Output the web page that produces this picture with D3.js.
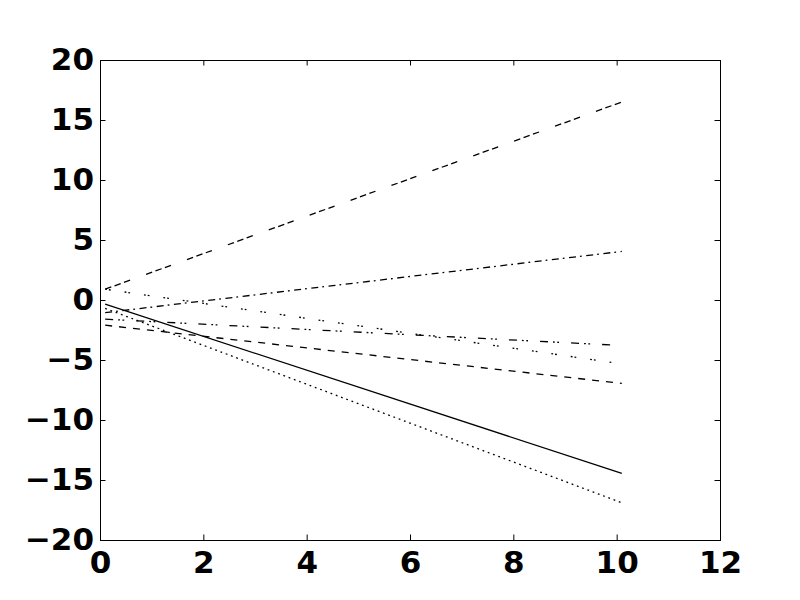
<!DOCTYPE html>
<html>
<head>
<meta charset="utf-8">
<script src="https://cdn.jsdelivr.net/npm/d3@7"></script>
<style>
  html, body { margin: 0; padding: 0; background: #fff; }
  svg { display: block; }
  .tick text { font-family: "DejaVu Sans", sans-serif; font-weight: bold; font-size: 31px; fill: #000; }
</style>
</head>
<body>
<svg id="chart" width="800" height="600"></svg>
<script>
// ---- data ----
const xTicks = [0, 2, 4, 6, 8, 10, 12];
const yTicks = [-20, -15, -10, -5, 0, 5, 10, 15, 20];

const seriesNames = ["groupDash", "dashDot", "pairDot", "dashDotDot", "dashed", "solid", "dotted"];
const seriesX = [
  [0.1, 10.1],
  [0.1, 10.1],
  [0.1, 9.9],
  [0.1, 9.9],
  [0.1, 10.1],
  [0.1, 10.1],
  [0.1, 10.1]
];
const seriesY = [
  [0.9, 16.5],
  [-1.05, 4.05],
  [0.9, -5.2],
  [-1.6, -3.75],
  [-2.1, -6.95],
  [-0.35, -14.45],
  [-0.7, -16.9]
];
const seriesDash = ["6.5,3.5,6.5,3.5,6.5,17", "7,4,1.8,4.5", "1.8,2,1.8,14", "8,5,1.8,2.5,1.8,12", "7,7", null, "1.8,3.8"];

// ---- layout ----
const svg = d3.select("#chart");
const L = 100, R = 720, T = 60, B = 540;
const x = d3.scaleLinear().domain([0, 12]).range([L, R]);
const y = d3.scaleLinear().domain([-20, 20]).range([B, T]);
const tickLen = 5.5;
const fmt = d => d3.format("d")(d).replace("-", "\u2212\u200A");

// lines
const line = d3.line().x(d => x(d[0])).y(d => y(d[1]));
seriesNames.forEach((name, i) => {
  const pts = seriesX[i].map((xv, j) => [xv, seriesY[i][j]]);
  svg.append("path")
    .attr("class", "series " + name)
    .attr("d", line(pts))
    .attr("fill", "none")
    .attr("stroke", "#000")
    .attr("stroke-width", 1.3)
    .attr("stroke-linecap", "butt")
    .attr("stroke-dasharray", seriesDash[i]);
});

// axes (ticks inward on all four sides)
const gx = svg.append("g").attr("transform", `translate(0,${B})`)
  .call(d3.axisBottom(x).tickValues(xTicks).tickFormat(fmt).tickSizeInner(-tickLen).tickSizeOuter(0).tickPadding(11));
const gxt = svg.append("g").attr("transform", `translate(0,${T})`)
  .call(d3.axisTop(x).tickValues(xTicks).tickFormat("").tickSizeInner(-tickLen).tickSizeOuter(0));
const gy = svg.append("g").attr("transform", `translate(${L},0)`)
  .call(d3.axisLeft(y).tickValues(yTicks).tickFormat(fmt).tickSizeInner(-tickLen).tickSizeOuter(0).tickPadding(6));
const gyr = svg.append("g").attr("transform", `translate(${R},0)`)
  .call(d3.axisRight(y).tickValues(yTicks).tickFormat("").tickSizeInner(-tickLen).tickSizeOuter(0));

[gx, gxt, gy, gyr].forEach(g => {
  g.select(".domain").remove();
  g.selectAll(".tick line").attr("stroke", "#000").attr("stroke-width", 1);
  g.attr("font-size", null).attr("font-family", null);
});
gx.selectAll(".tick text").attr("dy", "0.71em");

// frame
svg.append("rect")
  .attr("x", L + 0.5).attr("y", T + 0.5)
  .attr("width", R - L).attr("height", B - T)
  .attr("fill", "none").attr("stroke", "#000").attr("stroke-width", 1);
</script>
</body>
</html>
